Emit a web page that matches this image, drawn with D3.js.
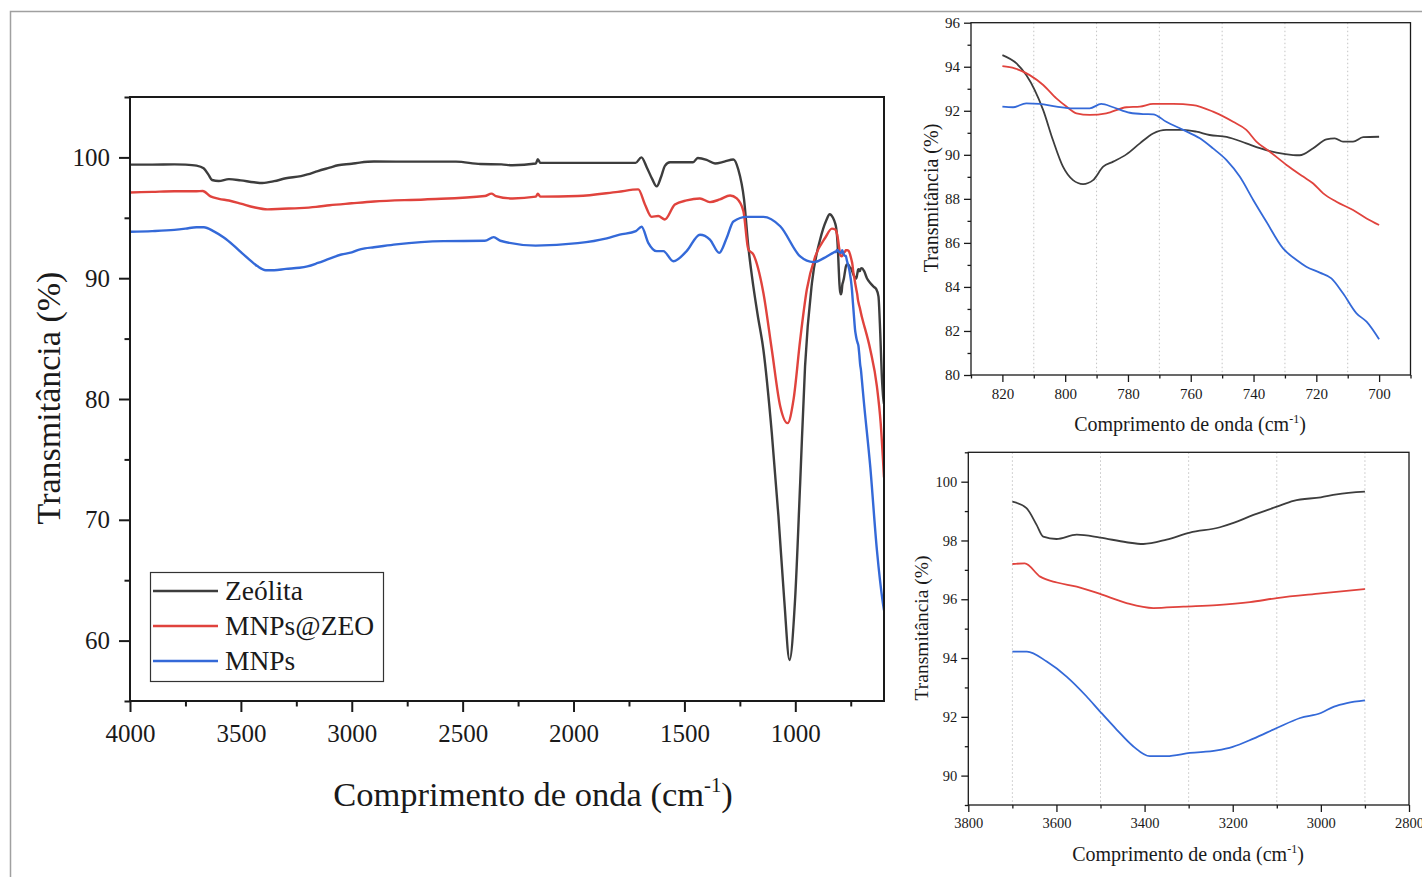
<!DOCTYPE html>
<html>
<head>
<meta charset="utf-8">
<script src="https://cdn.jsdelivr.net/npm/d3@7"></script>
<style>
body { margin: 0; background: #fff; }
svg text { font-family: "Liberation Serif", "Times New Roman", serif; fill: #1a1a1a; }
</style>
</head>
<body>
<script>
// FTIR spectra: [wavenumber (cm-1), transmittance (%)]
const zeolita = [
  [4000, 99.4], [3900, 99.4], [3800, 99.42], [3750, 99.4], [3700, 99.32], [3668, 99.1], [3645, 98.53],
  [3630, 98.13], [3600, 98.05], [3554, 98.2], [3501, 98.1], [3441, 97.94], [3403, 97.88], [3350, 98.03],
  [3297, 98.27], [3229, 98.45], [3200, 98.59], [3153, 98.87], [3100, 99.15], [3062, 99.35], [3000, 99.47],
  [2964, 99.57], [2900, 99.66], [2800, 99.65], [2700, 99.65], [2530, 99.65], [2420, 99.45], [2325, 99.42],
  [2275, 99.35], [2170, 99.5], [2161, 99.85], [2150, 99.55], [1981, 99.55], [1720, 99.55], [1694, 100.0],
  [1669, 99.15], [1645, 98.2], [1625, 97.6], [1605, 98.4], [1588, 99.3], [1565, 99.6], [1461, 99.6],
  [1440, 99.95], [1400, 99.8], [1362, 99.5], [1320, 99.65], [1279, 99.83], [1257, 99.0], [1231, 96.5],
  [1212, 92.65], [1189, 89.3], [1170, 87.0], [1144, 84.1], [1106, 77.2], [1076, 70.3], [1050, 63.4],
  [1026, 58.4], [1001, 63.4], [978, 73.05], [956, 82.7], [925, 89.6], [888, 93.2], [860, 94.8],
  [845, 95.3], [830, 95.0], [820, 94.53], [815.5, 94.15], [812.4, 93.62], [809.7, 92.94], [807, 92.03],
  [803.9, 90.67], [800.7, 89.46], [797.5, 88.85], [794.3, 88.67], [791.1, 88.85], [787.9, 89.46],
  [784.7, 89.69], [780.5, 90.02], [776.2, 90.52], [772, 90.97], [767.8, 91.13], [762.4, 91.13],
  [758.2, 91.05], [754, 90.9], [748.6, 90.82], [742.3, 90.52], [738, 90.3], [732.7, 90.1], [727.4, 89.99],
  [725.3, 89.98], [721, 90.3], [716.8, 90.7], [714.1, 90.75], [711.5, 90.6], [708.3, 90.6], [705.1, 90.8],
  [700, 90.82], [690, 90.6], [677, 90.0], [662, 89.6], [647, 89.3], [635, 89.1], [625, 88.5], [617, 85.5],
  [610, 82.0], [603, 80.0], [600, 79.6]
];

const mnpsZeo = [
  [4000, 97.1], [3900, 97.15], [3800, 97.2], [3750, 97.2], [3700, 97.2], [3672, 97.22], [3637, 96.77],
  [3599, 96.57], [3554, 96.43], [3501, 96.18], [3441, 95.87], [3380, 95.7], [3312, 95.75], [3236, 95.8],
  [3161, 95.9], [3100, 96.04], [3000, 96.2], [2900, 96.35], [2672, 96.52], [2400, 96.8], [2370, 97.0],
  [2350, 96.8], [2275, 96.6], [2170, 96.75], [2161, 97.0], [2150, 96.75], [1981, 96.8], [1800, 97.15],
  [1708, 97.35], [1678, 96.1], [1648, 95.08], [1618, 95.15], [1588, 94.86], [1543, 96.1], [1490, 96.44],
  [1430, 96.6], [1385, 96.3], [1340, 96.52], [1294, 96.85], [1264, 96.6], [1234, 95.55], [1212, 92.4],
  [1189, 91.96], [1144, 88.8], [1106, 84.1], [1068, 79.4], [1035, 78.0], [1008, 79.95], [978, 84.9],
  [948, 89.06], [910, 91.8], [865, 93.35], [835, 94.1], [820, 94.03], [816.1, 93.93], [811.3, 93.62],
  [807, 93.17], [802.8, 92.56], [799.6, 92.19], [796.4, 91.88], [792.2, 91.81], [786.9, 91.88],
  [780.5, 92.16], [776.2, 92.19], [772, 92.31], [765.6, 92.31], [759.3, 92.26], [752.9, 91.96],
  [746.5, 91.5], [742.3, 91.13], [739.1, 90.6], [734.8, 90.14], [729.5, 89.54], [724.2, 89.01],
  [721, 88.7], [717.8, 88.25], [713.6, 87.87], [708.3, 87.49], [704, 87.11], [700, 86.81], [662, 84.1],
  [632, 81.05], [615, 78.0], [600, 73.5]
];

const mnps = [
  [4000, 93.85], [3900, 93.9], [3800, 94.0], [3750, 94.1], [3700, 94.22], [3667, 94.22], [3622, 93.88],
  [3577, 93.37], [3532, 92.7], [3501, 92.18], [3463, 91.56], [3426, 91.0], [3388, 90.66], [3350, 90.66],
  [3297, 90.77], [3236, 90.86], [3200, 90.98], [3153, 91.26], [3100, 91.62], [3047, 91.96], [3000, 92.13],
  [2970, 92.35], [2941, 92.47], [2900, 92.56], [2800, 92.8], [2586, 93.07], [2400, 93.1], [2360, 93.4],
  [2330, 93.1], [2171, 92.7], [1981, 92.9], [1850, 93.3], [1792, 93.6], [1719, 93.9], [1693, 94.26],
  [1663, 92.93], [1625, 92.24], [1595, 92.24], [1550, 91.4], [1490, 92.24], [1430, 93.6], [1385, 93.2],
  [1343, 92.1], [1309, 93.35], [1279, 94.7], [1219, 95.08], [1144, 95.08], [1068, 94.3], [978, 91.8],
  [918, 91.33], [858, 91.8], [830, 92.1], [820, 92.19], [816.6, 92.16], [812.4, 92.34], [808.1, 92.31],
  [802.8, 92.19], [797.5, 92.11], [792.2, 92.11], [788.5, 92.31], [784.7, 92.16], [779.4, 91.91],
  [775.2, 91.85], [772, 91.84], [767.8, 91.5], [762.4, 91.13], [757.1, 90.75], [752.9, 90.29],
  [748.6, 89.76], [744.4, 89.01], [740.1, 87.95], [735.9, 86.96], [730.6, 85.75], [726.3, 85.22],
  [723.2, 84.92], [718.9, 84.65], [715.2, 84.39], [711.5, 83.71], [707.2, 82.8], [704, 82.42],
  [700, 81.62], [692, 80.0], [662, 74.4], [632, 67.5], [605, 63.1], [600, 62.5]
];

const seriesNames = ["Zeólita", "MNPs@ZEO", "MNPs"];
const seriesColors = ["#3d3d3d", "#e0433d", "#3469d8"];

// tick values
const mainXTicks = [4000, 3500, 3000, 2500, 2000, 1500, 1000];
const mainXMinor = [3750, 3250, 2750, 2250, 1750, 1250, 750];
const mainYTicks = [60, 70, 80, 90, 100];
const mainYMinor = [55, 65, 75, 85, 95, 105];

const topXTicks = [820, 800, 780, 760, 740, 720, 700];
const topXMinor = [830, 810, 790, 770, 750, 730, 710, 690];
const topYTicks = [80, 82, 84, 86, 88, 90, 92, 94, 96];
const topYMinor = [81, 83, 85, 87, 89, 91, 93, 95];

const botXTicks = [3800, 3600, 3400, 3200, 3000, 2800];
const botXMinor = [3700, 3500, 3300, 3100, 2900];
const botYTicks = [90, 92, 94, 96, 98, 100];
const botYMinor = [89, 91, 93, 95, 97, 99, 101];

const width = 1422;
const height = 877;

const svg = d3.select("body").append("svg")
    .attr("width", width)
    .attr("height", height);

svg.append("rect").attr("width", width).attr("height", height).attr("fill", "#fff");

// outer frame
svg.append("rect")
    .attr("x", 10.5).attr("y", 11.5)
    .attr("width", 1440).attr("height", 900)
    .attr("fill", "none")
    .attr("stroke", "#a0a0a0")
    .attr("stroke-width", 1.5);

const allSeries = [zeolita, mnpsZeo, mnps];

function panel(p) {
  const x = d3.scaleLinear().domain(p.xDomain).range([p.left, p.right]);
  const y = d3.scaleLinear().domain(p.yDomain).range([p.bottom, p.top]);
  const g = svg.append("g");

  g.append("clipPath").attr("id", p.id)
    .append("rect")
    .attr("x", p.left).attr("y", p.top)
    .attr("width", p.right - p.left).attr("height", p.bottom - p.top);

  if (p.grid) {
    g.selectAll("line.grid").data(p.grid).join("line")
      .attr("class", "grid")
      .attr("x1", d => x(d)).attr("x2", d => x(d))
      .attr("y1", p.top).attr("y2", p.bottom)
      .attr("stroke", "#c4c4c4")
      .attr("stroke-width", 1)
      .attr("stroke-dasharray", "1.5,2.5");
  }

  const line = d3.line()
      .x(d => x(d[0]))
      .y(d => y(d[1]))
      .curve(d3.curveMonotoneX);

  allSeries.forEach((s, i) => {
    const pts = s.filter(d => d[0] <= p.range[0] && d[0] >= p.range[1]);
    g.append("path")
      .attr("d", line(pts))
      .attr("clip-path", `url(#${p.id})`)
      .attr("fill", "none")
      .attr("stroke", seriesColors[i])
      .attr("stroke-width", p.lw)
      .attr("stroke-linejoin", "round");
  });

  // box
  g.append("rect")
    .attr("x", p.left).attr("y", p.top)
    .attr("width", p.right - p.left).attr("height", p.bottom - p.top)
    .attr("fill", "none")
    .attr("stroke", "#1a1a1a")
    .attr("stroke-width", p.axisW);

  // bottom axis
  const xa = g.append("g")
    .attr("transform", `translate(0,${p.bottom})`)
    .call(d3.axisBottom(x).tickValues(p.xTicks).tickSize(p.tick).tickPadding(p.xPad).tickFormat(d3.format("d")));
  g.append("g")
    .attr("transform", `translate(0,${p.bottom})`)
    .call(d3.axisBottom(x).tickValues(p.xMinor).tickSize(p.tick / 2).tickFormat(""));

  const ya = g.append("g")
    .attr("transform", `translate(${p.left},0)`)
    .call(d3.axisLeft(y).tickValues(p.yTicks).tickSize(p.tick).tickPadding(p.yPad).tickFormat(d3.format("d")));
  g.append("g")
    .attr("transform", `translate(${p.left},0)`)
    .call(d3.axisLeft(y).tickValues(p.yMinor).tickSize(p.tick / 2).tickFormat(""));

  g.selectAll(".domain").remove();
  g.selectAll(".tick line").attr("stroke", "#1a1a1a").attr("stroke-width", p.axisW);
  xa.selectAll("text").attr("font-size", p.tickFont).attr("fill", "#1a1a1a")
    .style("font-family", '"Liberation Serif", serif');
  ya.selectAll("text").attr("font-size", p.tickFont).attr("fill", "#1a1a1a")
    .style("font-family", '"Liberation Serif", serif');

  // axis titles
  const xt = svg.append("text")
    .attr("x", p.xTitle[0]).attr("y", p.xTitle[1])
    .attr("text-anchor", "middle")
    .attr("font-size", p.titleFont);
  xt.append("tspan").text("Comprimento de onda (cm");
  xt.append("tspan").text("-1").attr("font-size", p.titleFont * 0.6).attr("dy", -p.titleFont * 0.4);
  xt.append("tspan").text(")").attr("dy", p.titleFont * 0.4);

  svg.append("text")
    .attr("transform", `translate(${p.yTitle[0]},${p.yTitle[1]}) rotate(-90)`)
    .attr("text-anchor", "middle")
    .attr("font-size", p.yTitleFont)
    .text("Transmitância (%)");

  return { x, y };
}

// main spectrum
panel({
  id: "clipMain",
  left: 130, right: 884, top: 97, bottom: 701,
  xDomain: [4000, 600], yDomain: [55, 105],
  range: [4000, 600],
  xTicks: mainXTicks, xMinor: mainXMinor, yTicks: mainYTicks, yMinor: mainYMinor,
  tick: 11, xPad: 12, yPad: 9, tickFont: 25, axisW: 2, lw: 2.4,
  titleFont: 34.5, yTitleFont: 34,
  xTitle: [533, 806], yTitle: [60, 398]
});

// inset 820-700
panel({
  id: "clipTop",
  left: 971, right: 1410.5, top: 22.7, bottom: 375,
  xDomain: [830, 690], yDomain: [80, 96],
  range: [820, 700],
  grid: [810, 790, 770, 750, 730, 710],
  xTicks: topXTicks, xMinor: topXMinor, yTicks: topYTicks, yMinor: topYMinor,
  tick: 7, xPad: 6, yPad: 4, tickFont: 15, axisW: 1.3, lw: 1.8,
  titleFont: 20, yTitleFont: 20,
  xTitle: [1190, 431], yTitle: [938, 198]
});

// inset 3700-2900
panel({
  id: "clipBot",
  left: 968.3, right: 1409, top: 452.3, bottom: 805,
  xDomain: [3800, 2800], yDomain: [89, 101],
  range: [3700, 2900],
  grid: botXMinor,
  xTicks: botXTicks, xMinor: botXMinor, yTicks: botYTicks, yMinor: botYMinor,
  tick: 7, xPad: 6, yPad: 4, tickFont: 14.5, axisW: 1.3, lw: 1.8,
  titleFont: 20, yTitleFont: 19.5,
  xTitle: [1188, 861], yTitle: [928, 628]
});

// legend
const legend = svg.append("g");
legend.append("rect")
  .attr("x", 150.5).attr("y", 572.5)
  .attr("width", 233).attr("height", 109)
  .attr("fill", "#fff")
  .attr("stroke", "#333")
  .attr("stroke-width", 1.2);
seriesNames.forEach((name, i) => {
  const ly = 591 + i * 35;
  legend.append("line")
    .attr("x1", 153).attr("x2", 218)
    .attr("y1", ly).attr("y2", ly)
    .attr("stroke", seriesColors[i])
    .attr("stroke-width", 2.5);
  legend.append("text")
    .attr("x", 225).attr("y", ly + 9)
    .attr("font-size", 27.5)
    .text(name);
});
</script>
</body>
</html>
